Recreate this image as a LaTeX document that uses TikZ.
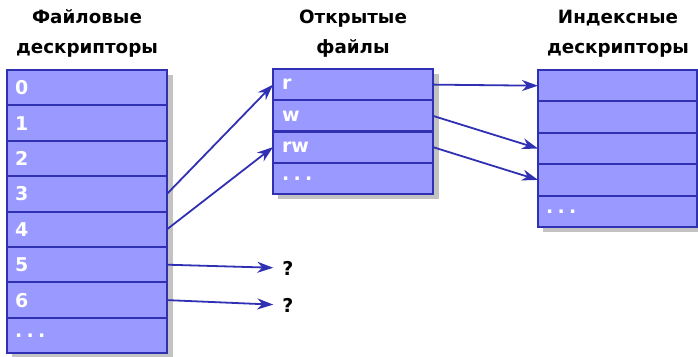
\documentclass[tikz,border=0pt]{standalone}
\usepackage{fontspec}
\setmainfont{DejaVu Sans}
\usetikzlibrary{arrows.meta}
\definecolor{cellfill}{RGB}{153,153,255}
\definecolor{celldraw}{RGB}{48,48,178}
\definecolor{shadowgray}{RGB}{195,195,195}
\newcommand{\mydots}{.\hspace{4.3pt}.\hspace{4.3pt}.}
\tikzset{
  cellbox/.style={draw=celldraw, fill=cellfill, line width=2.1pt, anchor=north west,
    text width=144pt, inner xsep=8pt, inner ysep=0pt, outer sep=0pt, align=left,
    text=white, font=\fontsize{19}{20}\selectfont\bfseries},
  lrow/.style={cellbox, minimum height=35.4pt},
  mrow/.style={cellbox, minimum height=31.25pt, inner xsep=9pt, text width=142pt},
  rrow/.style={cellbox, minimum height=31.4pt, text width=143pt},
  header/.style={align=center, font=\fontsize{18.3}{30}\selectfont\bfseries, text=black},
  link/.style={draw=celldraw, line width=1.8pt, -{Stealth[length=16pt,width=11pt,inset=5pt]}},
  qmark/.style={inner sep=0pt, font=\fontsize{19}{20}\selectfont\bfseries, text=black}
}
\begin{document}
\begin{tikzpicture}[x=1pt,y=-1pt]
\useasboundingbox (0,0) rectangle (698,356);
% shadows
\fill[shadowgray] (12,75) rectangle (173,360);
\fill[shadowgray] (278,74) rectangle (439,199);
\fill[shadowgray] (543,75) rectangle (703,232);
% headers
\node[header] (h1) at (87,33.5) {Файловые\\дескрипторы};
\node[header] (h2) at (353,33.5) {Открытые\\файлы};
\node[header] (h3) at (618,33.5) {Индексные\\дескрипторы};
% left stack
\node[lrow] (f0) at (7,70) {0};
\node[lrow] (f1) at (f0.south west) {1};
\node[lrow] (f2) at (f1.south west) {2};
\node[lrow] (f3) at (f2.south west) {3};
\node[lrow] (f4) at (f3.south west) {4};
\node[lrow] (f5) at (f4.south west) {5};
\node[lrow] (f6) at (f5.south west) {6};
\node[lrow] (f7) at (f6.south west) {\mydots};
% middle stack
\node[mrow] (o0) at (273,69) {r};
\node[mrow] (o1) at (o0.south west) {w};
\node[mrow] (o2) at (o1.south west) {rw};
\node[mrow] (o3) at (o2.south west) {\mydots};
% right stack
\node[rrow] (i0) at (538,70) {};
\node[rrow] (i1) at (i0.south west) {};
\node[rrow] (i2) at (i1.south west) {};
\node[rrow] (i3) at (i2.south west) {};
\node[rrow] (i4) at (i3.south west) {\mydots};
% question marks
\node[qmark] (q1) at (288,268) {?};
\node[qmark] (q2) at (288,305) {?};
% links
\draw[link] (f3.east) -- (o0.west);
\draw[link] (f4.east) -- (o2.west);
\draw[link, shorten >=9pt] (f5.east) -- (q1.west);
\draw[link, shorten >=9pt] (f6.east) -- (q2.west);
\draw[link] (o0.east) -- (i0.west);
\draw[link] (o1.east) -- (i2.west);
\draw[link] (o2.east) -- (i3.west);
\end{tikzpicture}
\end{document}
